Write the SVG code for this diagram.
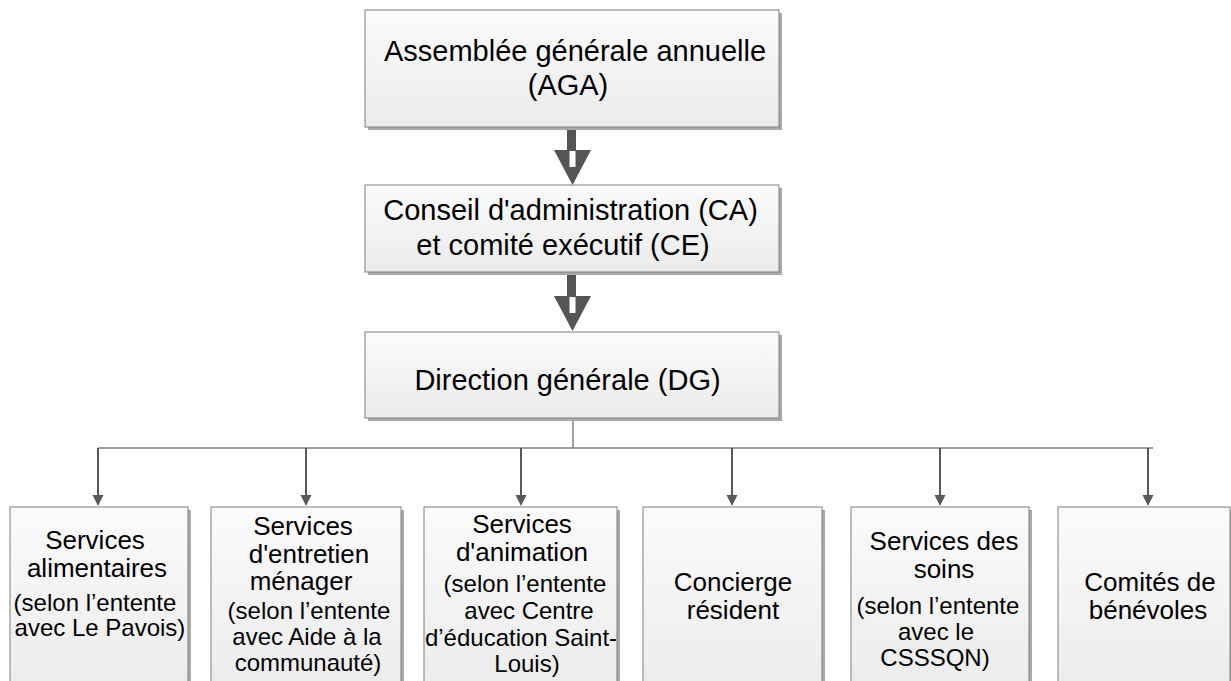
<svg xmlns="http://www.w3.org/2000/svg" width="1231" height="681" viewBox="0 0 1231 681">
<defs>
<linearGradient id="g" x1="0" y1="0" x2="0" y2="1">
<stop offset="0" stop-color="#fbfbfb"/>
<stop offset="1" stop-color="#ebebeb"/>
</linearGradient>
<path id="tip" d="M-5.5,0 L5.5,0 L0,11 Z" fill="#595959"/>
</defs>
<style>
.sh{fill:#aaaaaa}
.bx{fill:url(#g);stroke:#7f7f7f;stroke-width:1}
text{font-family:"Liberation Sans",Arial,sans-serif;fill:#000;text-anchor:middle}
.t1{font-size:29px}
.t2{font-size:26px}
.t3{font-size:24px}
.ln{stroke:#7f7f7f;stroke-width:1.5;fill:none}
.ar{stroke:#595959;stroke-width:2;fill:none}
.blk{fill:#555555}
</style>
<rect width="1231" height="681" fill="#ffffff"/>

<g id="connectors">
<rect class="blk" x="567" y="127" width="9" height="24"/>
<path class="blk" d="M554,150 L591,150 L572.5,185 Z"/>
<rect x="569.5" y="151" width="6" height="16" fill="#ffffff"/>
<rect class="blk" x="567" y="272" width="9" height="25"/>
<path class="blk" d="M554,296 L591,296 L572.5,331 Z"/>
<rect x="569.5" y="297" width="6" height="16" fill="#ffffff"/>
<line class="ln" x1="573" y1="418" x2="573" y2="448"/>
<line class="ln" x1="98" y1="448" x2="1153" y2="448"/>
<line class="ar" x1="98" y1="448" x2="98" y2="496"/>
<use href="#tip" x="98" y="495"/>
<line class="ar" x1="306" y1="448" x2="306" y2="496"/>
<use href="#tip" x="306" y="495"/>
<line class="ar" x1="521" y1="448" x2="521" y2="496"/>
<use href="#tip" x="521" y="495"/>
<line class="ar" x1="732" y1="448" x2="732" y2="496"/>
<use href="#tip" x="732" y="495"/>
<line class="ar" x1="940" y1="448" x2="940" y2="496"/>
<use href="#tip" x="940" y="495"/>
<line class="ar" x1="1148" y1="448" x2="1148" y2="496"/>
<use href="#tip" x="1148" y="495"/>
</g>

<g id="aga">
<rect class="sh" x="368" y="13" width="414" height="117"/>
<rect class="bx" x="365" y="10" width="414" height="117"/>
<text class="t1" x="575" y="61">Assemblée générale annuelle</text>
<text class="t1" x="568" y="95">(AGA)</text>
</g>

<g id="ca">
<rect class="sh" x="368" y="188" width="414" height="87"/>
<rect class="bx" x="365" y="185" width="414" height="87"/>
<text class="t1" x="570.5" y="220">Conseil d'administration (CA)</text>
<text class="t1" x="563" y="255">et comité exécutif (CE)</text>
</g>

<g id="dg">
<rect class="sh" x="368" y="335" width="414" height="86"/>
<rect class="bx" x="365" y="332" width="414" height="86"/>
<text class="t1" x="567.5" y="390">Direction générale (DG)</text>
</g>

<g id="alimentaires">
<rect class="sh" x="13" y="510" width="178" height="190"/>
<rect class="bx" x="10" y="507" width="178" height="190"/>
<text class="t2" x="95" y="549">Services</text>
<text class="t2" x="97" y="577">alimentaires</text>
<text class="t3" x="95" y="611">(selon l’entente</text>
<text class="t3" x="100" y="636">avec Le Pavois)</text>
</g>

<g id="entretien">
<rect class="sh" x="214" y="510" width="190" height="190"/>
<rect class="bx" x="211" y="507" width="190" height="190"/>
<text class="t2" x="303" y="535">Services</text>
<text class="t2" x="309" y="563">d'entretien</text>
<text class="t2" x="301" y="590">ménager</text>
<text class="t3" x="309" y="619">(selon l’entente</text>
<text class="t3" x="307" y="645">avec Aide à la</text>
<text class="t3" x="308" y="671">communauté)</text>
</g>

<g id="animation">
<rect class="sh" x="427" y="510" width="193" height="190"/>
<rect class="bx" x="424" y="507" width="193" height="190"/>
<text class="t2" x="522" y="533">Services</text>
<text class="t2" x="522" y="561">d'animation</text>
<text class="t3" x="525" y="592">(selon l’entente</text>
<text class="t3" x="529" y="619">avec Centre</text>
<text class="t3" x="521" y="646">d’éducation Saint-</text>
<text class="t3" x="527" y="672">Louis)</text>
</g>

<g id="concierge">
<rect class="sh" x="646" y="510" width="179" height="190"/>
<rect class="bx" x="643" y="507" width="179" height="190"/>
<text class="t2" x="733" y="591">Concierge</text>
<text class="t2" x="733" y="619">résident</text>
</g>

<g id="soins">
<rect class="sh" x="854" y="510" width="178" height="190"/>
<rect class="bx" x="851" y="507" width="178" height="190"/>
<text class="t2" x="944" y="550">Services des</text>
<text class="t2" x="944" y="578">soins</text>
<text class="t3" x="938" y="614">(selon l’entente</text>
<text class="t3" x="936" y="640">avec le</text>
<text class="t3" x="935" y="666">CSSSQN)</text>
</g>

<g id="benevoles">
<rect class="sh" x="1061" y="510" width="172" height="190"/>
<rect class="bx" x="1058" y="507" width="172" height="190"/>
<text class="t2" x="1150" y="591">Comités de</text>
<text class="t2" x="1148" y="619">bénévoles</text>
</g>
</svg>
